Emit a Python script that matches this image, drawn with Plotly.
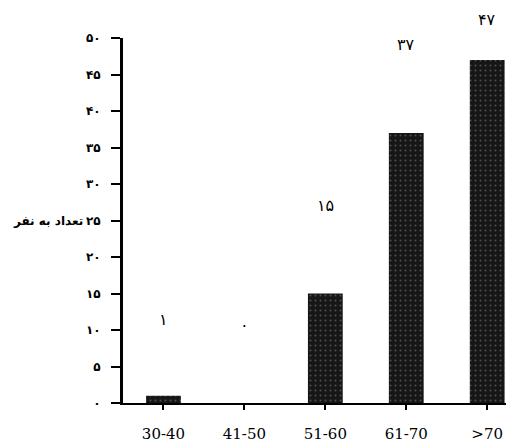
import plotly.graph_objects as go

categories = ["30-40", "41-50", "51-60", "61-70", ">70"]
values = [1, 0, 15, 37, 47]
value_labels = ["۱", "۰", "۱۵", "۳۷", "۴۷"]
y_tick_values = [0, 5, 10, 15, 20, 25, 30, 35, 40, 45, 50]
y_tick_labels = ["۰", "۵", "۱۰", "۱۵", "۲۰", "۲۵", "۳۰", "۳۵", "۴۰", "۴۵", "۵۰"]
y_title = "تعداد به نفر"

# pixel offsets of the value labels above each bar (style)
label_shifts = [76, 78, 88, 88, 40]

fig = go.Figure()
fig.add_trace(go.Bar(
    x=list(range(len(categories))),
    y=values,
    width=0.43,
    marker=dict(
        color="#161616",
        line=dict(width=0),
        pattern=dict(shape=".", fgcolor="#8a8a8a", bgcolor="#161616", size=5, solidity=0.12),
    ),
    showlegend=False,
))

for i, (v, lab) in enumerate(zip(values, value_labels)):
    fig.add_annotation(
        x=i, y=v, text=lab, showarrow=False, yshift=label_shifts[i],
        font=dict(family="DejaVu Sans", size=16, color="black"),
        yanchor="middle", borderpad=0,
    )

fig.add_annotation(
    xref="paper", yref="y", x=-0.095, y=25, xanchor="right", yanchor="middle",
    text="<b>" + y_title + "</b>", showarrow=False,
    font=dict(family="DejaVu Sans", size=12, color="black"),
)

fig.update_layout(
    width=514, height=445,
    margin=dict(l=115, r=0, t=30, b=50),
    paper_bgcolor="white", plot_bgcolor="white",
    bargap=0.55,
)
fig.update_xaxes(
    range=[-0.5, 4.43],
    tickmode="array",
    tickvals=list(range(len(categories))),
    ticktext=categories,
    tickson="boundaries",
    ticks="outside", ticklen=5, tickwidth=2, tickcolor="black",
    showline=True, linewidth=2, linecolor="black",
    showgrid=False, zeroline=False,
    tickfont=dict(family="DejaVu Serif", size=15, color="black"),
    ticklabelstandoff=11,
)
fig.update_yaxes(
    range=[0, 50],
    tickmode="array",
    tickvals=y_tick_values,
    ticktext=["<b>" + t + "</b>" for t in y_tick_labels],
    ticks="outside", ticklen=9, tickwidth=2, tickcolor="black",
    showline=True, linewidth=3, linecolor="black",
    showgrid=False, zeroline=False,
    tickfont=dict(family="DejaVu Sans", size=12, color="black"),
    ticklabelstandoff=8,
)

fig.write_html("out.html")
